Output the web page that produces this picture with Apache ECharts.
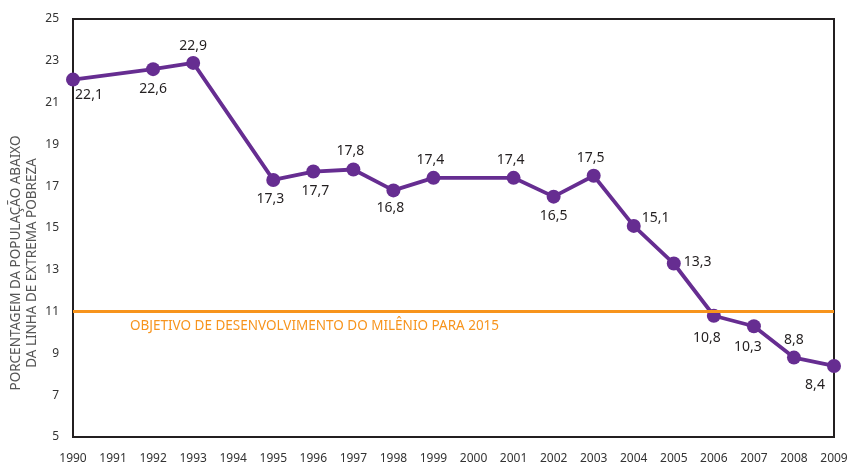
<!DOCTYPE html>
<html><head><meta charset="utf-8">
<script src="https://cdn.jsdelivr.net/npm/echarts@6/dist/echarts.min.js"></script>
<style>html,body{margin:0;padding:0;background:#fff}#c{width:847px;height:467px}</style>
</head><body><div id="c"></div>
<script>
const years = ['1990','1991','1992','1993','1994','1995','1996','1997','1998','1999','2000','2001','2002','2003','2004','2005','2006','2007','2008','2009'];
const values = [22.1,null,22.6,22.9,null,17.3,17.7,17.8,16.8,17.4,null,17.4,16.5,17.5,15.1,13.3,10.8,10.3,8.8,8.4];
const targetValue = 11;
const targetLabel = 'OBJETIVO DE DESENVOLVIMENTO DO MILÊNIO PARA 2015';
const yName = 'PORCENTAGEM DA POPULAÇÃO ABAIXO\nDA LINHA DE EXTREMA POBREZA';

// label placement style per point (not data)
const labelStyle = {
  '1990':{position:'bottom',offset:[16,-4]},
  '1992':{position:'bottom',offset:[0,1]},
  '1993':{position:'top',offset:[0,2]},
  '1995':{position:'bottom',offset:[-3,0]},
  '1996':{position:'bottom',offset:[2,0]},
  '1997':{position:'top',offset:[-3,1]},
  '1998':{position:'bottom',offset:[-3,-1]},
  '1999':{position:'top',offset:[-3,1]},
  '2001':{position:'top',offset:[-3,1]},
  '2002':{position:'bottom',offset:[0,0]},
  '2003':{position:'top',offset:[-3,1]},
  '2004':{position:'right',offset:[-4,-8]},
  '2005':{position:'right',offset:[-2,-2]},
  '2006':{position:'bottom',offset:[-7,3]},
  '2007':{position:'bottom',offset:[-6,2]},
  '2008':{position:'top',offset:[0,1]},
  '2009':{position:'bottom',offset:[-19,0]}
};

const seriesData = values.map((v,i)=>{
  if (v===null) return null;
  const ls = labelStyle[years[i]] || {position:'top',offset:[0,0]};
  return {value:v, label:{position:ls.position, offset:ls.offset}};
});

const chart = echarts.init(document.getElementById('c'), null, {renderer:'canvas'});
const FONT = 'Noto Sans';
chart.setOption({
  animation:false,
  textStyle:{fontFamily:FONT},
  grid:{left:73,right:13,top:19,bottom:30,containLabel:false,outerBoundsMode:'none',
    show:true,borderColor:'#231f20',borderWidth:2,backgroundColor:'transparent'},
  xAxis:{
    type:'category', data:years, boundaryGap:false,
    axisLine:{lineStyle:{color:'#231f20',width:2}},
    axisTick:{show:false},
    axisLabel:{color:'#333',fontSize:12,margin:16,fontFamily:FONT,interval:0},
    splitLine:{show:false}
  },
  yAxis:{
    type:'value', min:5, max:25, interval:2,
    name:yName, nameLocation:'middle', nameGap:33, nameRotate:90, nameMoveOverlap:false,
    nameTextStyle:{color:'#555',fontSize:13.5,fontFamily:FONT,lineHeight:16,padding:[0,70,0,0]},
    axisLine:{show:true,lineStyle:{color:'#231f20',width:2}},
    axisTick:{show:false},
    axisLabel:{color:'#333',fontSize:12,margin:14,fontFamily:FONT},
    splitLine:{show:false}
  },
  series:[{
    type:'line', data:seriesData, connectNulls:true,
    symbol:'circle', symbolSize:14,
    lineStyle:{color:'#662d91',width:3.8},
    itemStyle:{color:'#662d91'},
    label:{show:true,color:'#231f20',fontSize:14,fontFamily:FONT,
      formatter:p=>String(p.value).replace('.',',')},
    markLine:{
      silent:true, symbol:['none','none'],
      lineStyle:{color:'#f7941d',width:3,type:'solid'},
      label:{show:true,position:'insideStartBottom',formatter:targetLabel,color:'#f7941d',fontSize:13.5,fontFamily:FONT,distance:[57,8]},
      data:[{yAxis:targetValue}]
    },
    z:3
  }]
});
</script></body></html>
